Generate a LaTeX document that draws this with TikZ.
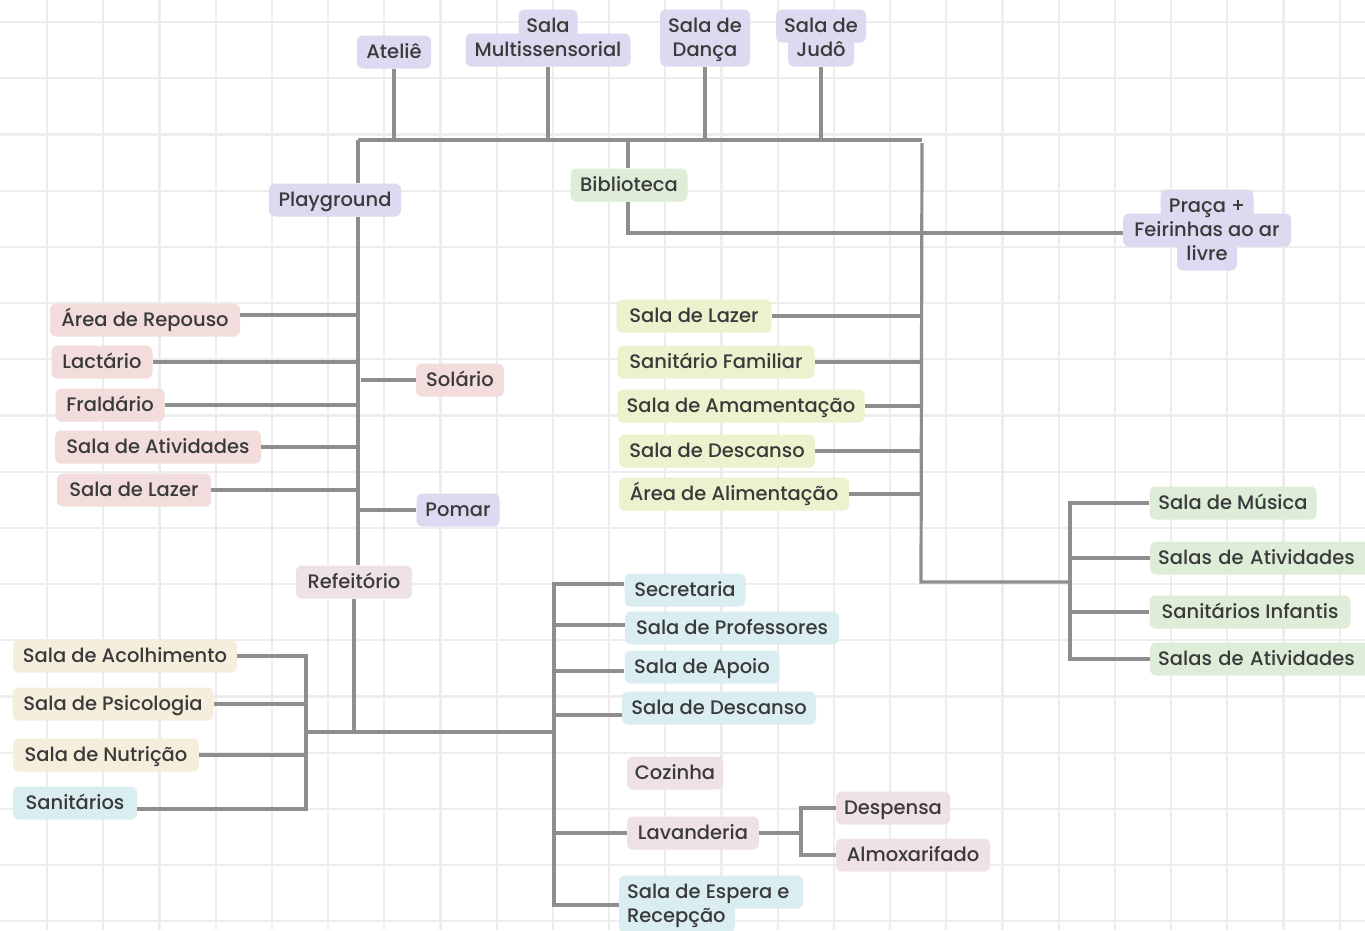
\documentclass[tikz,border=0pt]{standalone}
\usepackage{fontspec}
\setmainfont{Poppins}[UprightFont={* Medium}]
\definecolor{gridc}{HTML}{EDEDED}
\definecolor{linec}{HTML}{8E8E8E}
\definecolor{txtc}{HTML}{3A3A3A}
\definecolor{lav}{HTML}{DCDAF0}
\definecolor{grn}{HTML}{DDEDD8}
\definecolor{ylw}{HTML}{EAF2CE}
\definecolor{pnk}{HTML}{F2DCDC}
\definecolor{mauve}{HTML}{EFE2E6}
\definecolor{crm}{HTML}{F6EEDC}
\definecolor{blu}{HTML}{DAEEF1}
\tikzset{
  gridline/.style={draw=gridc, line width=2.2pt},
  conn/.style={draw=linec, line width=3.2pt},
  box/.style={rounded corners=6pt, inner xsep=7pt, inner ysep=0pt, minimum height=33pt,
    text=txtc, font=\fontsize{19.5}{24}\selectfont, text height=17pt, text depth=4pt},
  txtonly/.style={inner sep=0pt, text=txtc, font=\fontsize{19.5}{24}\selectfont, text height=17pt, text depth=4pt},
  lavbox/.style={box, fill=lav},
  grnbox/.style={box, fill=grn},
  ylwbox/.style={box, fill=ylw},
  pnkbox/.style={box, fill=pnk},
  mauvebox/.style={box, fill=mauve},
  crmbox/.style={box, fill=crm},
  blubox/.style={box, fill=blu},
}
\begin{document}
\begin{tikzpicture}[x=1pt,y=-1pt]
\useasboundingbox (0,0) rectangle (1365,930);
\clip (0,0) rectangle (1365,930);
\fill[white] (0,0) rectangle (1365,930);
\foreach \i in {0,...,23} \draw[gridline] ({47+56.2*\i},0) -- ({47+56.2*\i},930);
\foreach \j in {0,...,16} \draw[gridline] (0,{22+56.2*\j}) -- (1365,{22+56.2*\j});

% ---- top row
\node[lavbox, minimum width=74pt] (atelie) at (394,52) {Ateliê};
\node[lavbox, minimum width=59pt] (multA) at (548,26) {};
\node[lavbox, minimum width=165pt] (multB) at (548,50) {};
\node[txtonly] (multAt) at (multA) {Sala};
\node[txtonly] (multBt) at (multB) {Multissensorial};
\node[lavbox, minimum width=90pt] (dancaA) at (705,26) {};
\node[lavbox, minimum width=90pt] (dancaB) at (705,50) {};
\node[txtonly] (dancaAt) at (dancaA) {Sala de};
\node[txtonly] (dancaBt) at (dancaB) {Dança};
\node[lavbox, minimum width=90pt] (judoA) at (821,26) {};
\node[lavbox, minimum width=66pt] (judoB) at (821,50) {};
\node[txtonly] (judoAt) at (judoA) {Sala de};
\node[txtonly] (judoBt) at (judoB) {Judô};

\node[grnbox, minimum width=117pt] (biblioteca) at (629,185) {Biblioteca};
\node[lavbox, minimum width=93pt] (pracaA) at (1207,206) {};
\node[lavbox, minimum width=168pt] (pracaB) at (1207,230) {};
\node[lavbox, minimum width=60pt] (pracaC) at (1207,254) {};
\node[txtonly] (pracaAt) at (pracaA) {Praça +};
\node[txtonly] (pracaBt) at (pracaB) {Feirinhas ao ar};
\node[txtonly] (pracaCt) at (pracaC) {livre};

% ---- left branch
\node[lavbox, minimum width=132pt] (playground) at (335,200) {Playground};
\node[pnkbox, minimum width=190pt] (repouso) at (145,320) {Área de Repouso};
\node[pnkbox, minimum width=101pt] (lactario) at (102,362) {Lactário};
\node[pnkbox, minimum width=109pt] (fraldario) at (110,405) {Fraldário};
\node[pnkbox, minimum width=206pt] (ativL) at (158,447) {Sala de Atividades};
\node[pnkbox, minimum width=154pt] (lazerL) at (134,490) {Sala de Lazer};
\node[pnkbox, minimum width=88pt] (solario) at (460,380) {Solário};
\node[lavbox, minimum width=83pt] (pomar) at (458,510) {Pomar};
\node[mauvebox, minimum width=116pt] (refeitorio) at (354,582) {Refeitório};

\node[crmbox, minimum width=224pt] (acolh) at (125,656) {Sala de Acolhimento};
\node[crmbox, minimum width=201pt] (psico) at (113,704) {Sala de Psicologia};
\node[crmbox, minimum width=186pt] (nutri) at (106,755) {Sala de Nutrição};
\node[blubox, minimum width=124pt] (sanit) at (75,803) {Sanitários};

% ---- lower middle
\node[blubox, minimum width=121pt] (secretaria) at (685,590) {Secretaria};
\node[blubox, minimum width=214pt] (profs) at (732,628) {Sala de Professores};
\node[blubox, minimum width=155pt] (apoio) at (702,667) {Sala de Apoio};
\node[blubox, minimum width=194pt] (descB) at (719,708) {Sala de Descanso};
\node[mauvebox, minimum width=96pt] (cozinha) at (675,773) {Cozinha};
\node[mauvebox, minimum width=132pt] (lavanderia) at (693,833) {Lavanderia};
\node[mauvebox, minimum width=114pt] (despensa) at (893,808) {Despensa};
\node[mauvebox, minimum width=154pt] (almox) at (913,855) {Almoxarifado};
\node[blubox, minimum width=184pt] (espA) at (711,892) {};
\node[blubox, minimum width=116pt] (espB) at (677,916) {};
\node[txtonly, anchor=west] (espAt) at ([xshift=8pt]espA.west) {Sala de Espera e};
\node[txtonly, anchor=west] (espBt) at ([xshift=8pt]espB.west) {Recepção};

% ---- middle column
\node[ylwbox, minimum width=155pt] (lazerM) at (694,316) {Sala de Lazer};
\node[ylwbox, minimum width=197pt] (sanfam) at (716,362) {Sanitário Familiar};
\node[ylwbox, minimum width=247pt] (amam) at (741,406) {Sala de Amamentação};
\node[ylwbox, minimum width=196pt] (descM) at (717,451) {Sala de Descanso};
\node[ylwbox, minimum width=230pt] (alim) at (734,494) {Área de Alimentação};

% ---- right column
\node[grnbox, minimum width=167pt] (musica) at (1233,503) {Sala de Música};
\node[grnbox, inner xsep=8pt, text width=206pt, align=left, anchor=west] (ativR1) at (1150,558) {Salas de Atividades};
\node[grnbox, minimum width=201pt] (saninf) at (1250,612) {Sanitários Infantis};
\node[grnbox, inner xsep=8pt, text width=206pt, align=left, anchor=west] (ativR2) at (1150,659) {Salas de Atividades};

% ---- connectors
\coordinate (busL) at (358,140);
\coordinate (busR) at (922,140);
\coordinate (bib) at (628,140);
\coordinate (rv) at (921,582);
\coordinate (rg) at (1070,582);
\coordinate (hb) at (354,732);
\coordinate (jL) at (306,732);
\coordinate (jR) at (554,732);
\coordinate (lj) at (801,833);

\draw[conn] (busL) -- (busR);
\draw[conn] (atelie.south) -- (atelie.south |- busL);
\draw[conn] (multB.south) -- (multB.south |- busL);
\draw[conn] (dancaB.south) -- (dancaB.south |- busL);
\draw[conn] (judoB.south) -- (judoB.south |- busL);
\draw[conn] (busL) -- (busL |- playground.north);
\draw[conn] (bib) -- (bib |- biblioteca.north);
\draw[conn] (bib |- biblioteca.south) |- ([yshift=-3pt]pracaB.west);

\draw[conn] (busL |- playground.south) -- (busL |- refeitorio.north);
\draw[conn] ([yshift=5pt]repouso.east) -- ([yshift=5pt]repouso.east -| busL);
\draw[conn] (lactario.east) -- (lactario.east -| busL);
\draw[conn] (fraldario.east) -- (fraldario.east -| busL);
\draw[conn] (ativL.east) -- (ativL.east -| busL);
\draw[conn] (lazerL.east) -- (lazerL.east -| busL);
\draw[conn] (solario.west) -- ([xshift=3pt]solario.west -| busL);
\draw[conn] (pomar.west) -- (pomar.west -| busL);

\draw[conn] (refeitorio.south) -- (refeitorio.south |- hb);
\draw[conn] (jL) -- (jR);
\draw[conn] (acolh.east) -| ([yshift=-6pt]sanit.east -| jL) -- ([yshift=-6pt]sanit.east);
\draw[conn] (psico.east) -- (psico.east -| jL);
\draw[conn] (nutri.east) -- (nutri.east -| jL);

\draw[conn] ([yshift=6pt]secretaria.west) -| ([yshift=-13pt]espA.west -| jR) -- ([yshift=-13pt]espA.west);
\draw[conn] ([yshift=3pt]profs.west) -- ([yshift=3pt]profs.west -| jR);
\draw[conn] ([yshift=-4pt]apoio.west) -- ([yshift=-4pt]apoio.west -| jR);
\draw[conn] ([yshift=-7pt]descB.west) -- ([yshift=-7pt]descB.west -| jR);
\draw[conn] (lavanderia.west) -- (lavanderia.west -| jR);
\draw[conn] (lavanderia.east) -- (lj);
\draw[conn] (despensa.west) -| (almox.west -| lj) -- (almox.west);

\draw[conn] ([yshift=-3pt]busR) -- (rv) -- (rg);
\draw[conn] (lazerM.east) -- (lazerM.east -| rv);
\draw[conn] (sanfam.east) -- (sanfam.east -| rv);
\draw[conn] (amam.east) -- (amam.east -| rv);
\draw[conn] (descM.east) -- (descM.east -| rv);
\draw[conn] (alim.east) -- (alim.east -| rv);
\draw[conn] (musica.west) -| (ativR2.west -| rg) -- (ativR2.west);
\draw[conn] (ativR1.west) -- (ativR1.west -| rg);
\draw[conn] (saninf.west) -- (saninf.west -| rg);
\end{tikzpicture}
\end{document}
